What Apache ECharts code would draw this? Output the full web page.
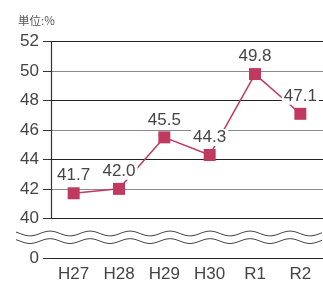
<!DOCTYPE html>
<html>
<head>
<meta charset="utf-8">
<script src="https://cdn.jsdelivr.net/npm/echarts@6/dist/echarts.min.js"></script>
<style>
  html, body { margin: 0; padding: 0; background: #fff; }
  #chart { width: 323px; height: 285px; }
</style>
</head>
<body>
<div id="chart"></div>
<script>
var categories = ['H27', 'H28', 'H29', 'H30', 'R1', 'R2'];
var rates = [41.7, 42.0, 45.5, 44.3, 49.8, 47.1];
var unitText = '単位:%';

var font = "'Liberation Sans', sans-serif";
var lineColor = '#c0395e';
var yBreaks = [{ start: 0, end: 40, gap: '18.47%' }];
var chart = echarts.init(document.getElementById('chart'));

var option = {
  animation: false,
  title: {
    text: unitText,
    left: 13,
    top: 10,
    textStyle: { fontSize: 11.5, fontWeight: 'normal', color: '#555', fontFamily: "'Noto Sans CJK JP', sans-serif" }
  },
  grid: { left: 51, right: 0, top: 41.7, bottom: 26.7 },
  xAxis: {
    type: 'category',
    data: categories,
    axisLine: { lineStyle: { color: '#333', width: 1.2 } },
    axisTick: { alignWithLabel: true, length: 5, lineStyle: { color: '#333' } },
    axisLabel: { fontSize: 17, color: '#444', fontFamily: font, margin: 8 }
  },
  yAxis: [{
    type: 'value',
    min: 0,
    max: 52,
    interval: 2,
    breaks: yBreaks,
    breakArea: { show: false },
    axisLine: { show: true, lineStyle: { color: '#333', width: 1.2 } },
    axisTick: { show: true, length: 8, lineStyle: { color: '#333' } },
    axisLabel: { fontSize: 17, color: '#444', fontFamily: font, margin: 12 },
    splitLine: { lineStyle: { color: '#8a8a8a', width: 1.2 } }
  }, {
    // darker gridlines every 4 units, drawn over the grey ones
    type: 'value',
    position: 'left',
    min: 0,
    max: 52,
    interval: 4,
    breaks: yBreaks,
    breakArea: { show: false },
    z: 3,
    axisLine: { show: false },
    axisTick: { show: false },
    axisLabel: { show: false },
    splitLine: { lineStyle: { color: '#222', width: 1.2 } }
  }],
  series: [{
    type: 'line',
    data: rates,
    symbol: 'rect',
    symbolSize: 12,
    z: 5,
    itemStyle: { color: lineColor },
    lineStyle: { color: lineColor, width: 1.5 },
    label: {
      show: true,
      position: 'top',
      distance: 3,
      fontSize: 17,
      color: '#444',
      fontFamily: font,
      backgroundColor: '#fff',
      padding: [0, 2],
      formatter: function (p) { return p.value.toFixed(1); }
    },
    markLine: {
      silent: true,
      symbol: 'none',
      label: { show: false },
      z: 1,
      lineStyle: { color: '#222', width: 1.2, type: 'solid' },
      data: [{ yAxis: 40 }]
    }
  }]
};
chart.setOption(option);

// wavy break marks between 0 and 40
var yTop = chart.convertToPixel({ yAxisIndex: 0 }, 40);
var yBot = chart.convertToPixel({ yAxisIndex: 0 }, 0);
var yc = (yTop + yBot) / 2 - 1;
function wave(y0) {
  var pts = [];
  for (var x = 16; x <= 323; x += 2) {
    pts.push([x, y0 - 2.4 * Math.cos(2 * Math.PI * (x - 10) / 40)]);
  }
  return {
    type: 'polyline',
    shape: { points: pts },
    style: { stroke: '#444', lineWidth: 1, fill: null },
    z: 100
  };
}
chart.setOption({ graphic: [wave(yc - 3.8), wave(yc + 3.8)] });
</script>
</body>
</html>
